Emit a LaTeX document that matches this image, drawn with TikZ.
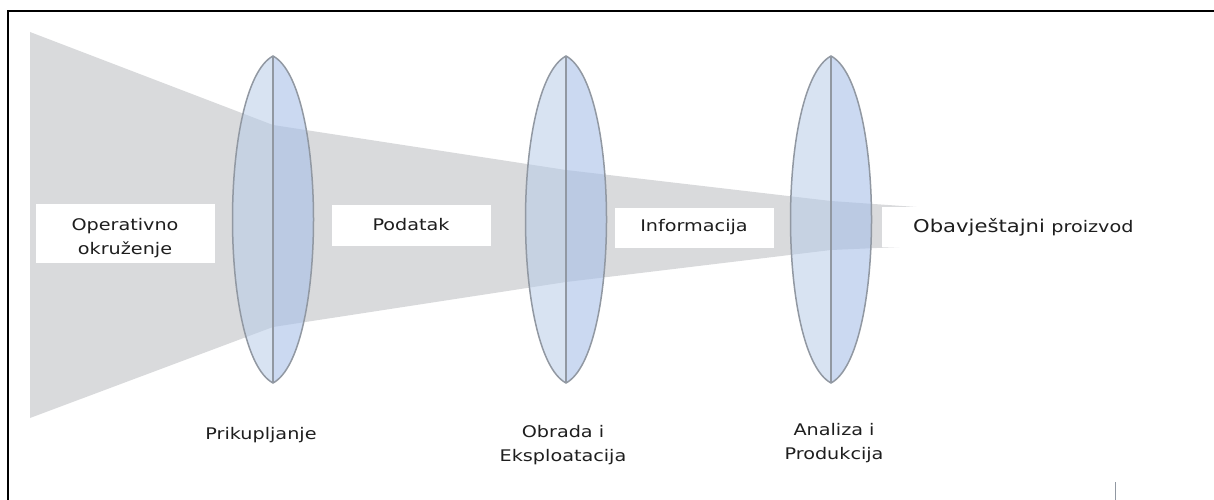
\documentclass[tikz,border=0pt]{standalone}
\usepackage{fontspec}
\setmainfont{DejaVu Sans}[FakeStretch=1.2]
\definecolor{funnel}{RGB}{217,218,220}
\definecolor{lensL}{RGB}{184,204,232}
\definecolor{lensR}{RGB}{168,192,232}
\definecolor{lensline}{RGB}{145,152,162}
\definecolor{txt}{RGB}{30,30,30}
\tikzset{
  whitebox/.style={fill=white, draw=none, inner sep=0pt},
  lbl/.style={text=txt, font=\fontsize{16}{24}\selectfont, inner sep=0pt, anchor=base},
  lensedge/.style={draw=lensline, line width=1.5pt},
}
\begin{document}
\begin{tikzpicture}[x=1pt,y=-1pt]
\useasboundingbox (0,0) rectangle (1214,500);
% funnel
\fill[funnel] (30,32) -- (273,125) -- (566,170) -- (831,201) -- (945,209)
  -- (945,245) -- (831,250) -- (566,282) -- (273,327) -- (30,418) -- cycle;
% lenses
\foreach \lx/\nm in {273/lensA,566/lensB,831/lensC}{
  \fill[lensL, fill opacity=0.55] (\lx,56) .. controls (\lx-54,85) and (\lx-54,354) .. (\lx,383) -- cycle;
  \fill[lensR, fill opacity=0.6] (\lx,56) .. controls (\lx+54,85) and (\lx+54,354) .. (\lx,383) -- cycle;
  \draw[lensedge] (\lx,56) .. controls (\lx+54,85) and (\lx+54,354) .. (\lx,383)
     .. controls (\lx-54,354) and (\lx-54,85) .. (\lx,56) -- cycle;
  \draw[lensedge] (\lx,56) -- (\lx,383);
  \coordinate (\nm) at (\lx,220);
}
% white boxes
\node[whitebox, minimum width=179pt, minimum height=59pt] (boxOp) at (125.5,233.5) {};
\node[whitebox, minimum width=159pt, minimum height=41pt] (boxPod) at (411.5,225.5) {};
\node[whitebox, minimum width=159pt, minimum height=40pt] (boxInf) at (694.5,228) {};
\node[whitebox, minimum width=270pt, minimum height=40pt] (boxObv) at (1017,227) {};
% texts
\node[lbl] (tOp1) at (125,230) {Operativno};
\node[lbl] (tOp2) at (125,254) {okruženje};
\node[lbl] (tPod) at (411,230) {Podatak};
\node[lbl] (tInf) at (694,231) {Informacija};
\node[lbl, font=\fontsize{17.6}{24}\selectfont, anchor=base west] (tObv) at (913,232) {Obavještajni};
\node[lbl, anchor=base west] (tPro) at (tObv.base east) {\ proizvod};
\node[lbl] (tPri) at (261,439) {Prikupljanje};
\node[lbl] (tObr1) at (563,437) {Obrada i};
\node[lbl] (tObr2) at (563,461) {Eksploatacija};
\node[lbl] (tAna1) at (834,435) {Analiza i};
\node[lbl] (tAna2) at (834,459) {Produkcija};
% frame
\draw[line width=2pt] (7.5,500) -- (7.5,11) -- (1214,11);
\coordinate (tickA) at (1115,482);
\coordinate (tickB) at (1115,500);
\draw[lensline, line width=1pt] (tickA) -- (tickB);
\end{tikzpicture}
\end{document}
